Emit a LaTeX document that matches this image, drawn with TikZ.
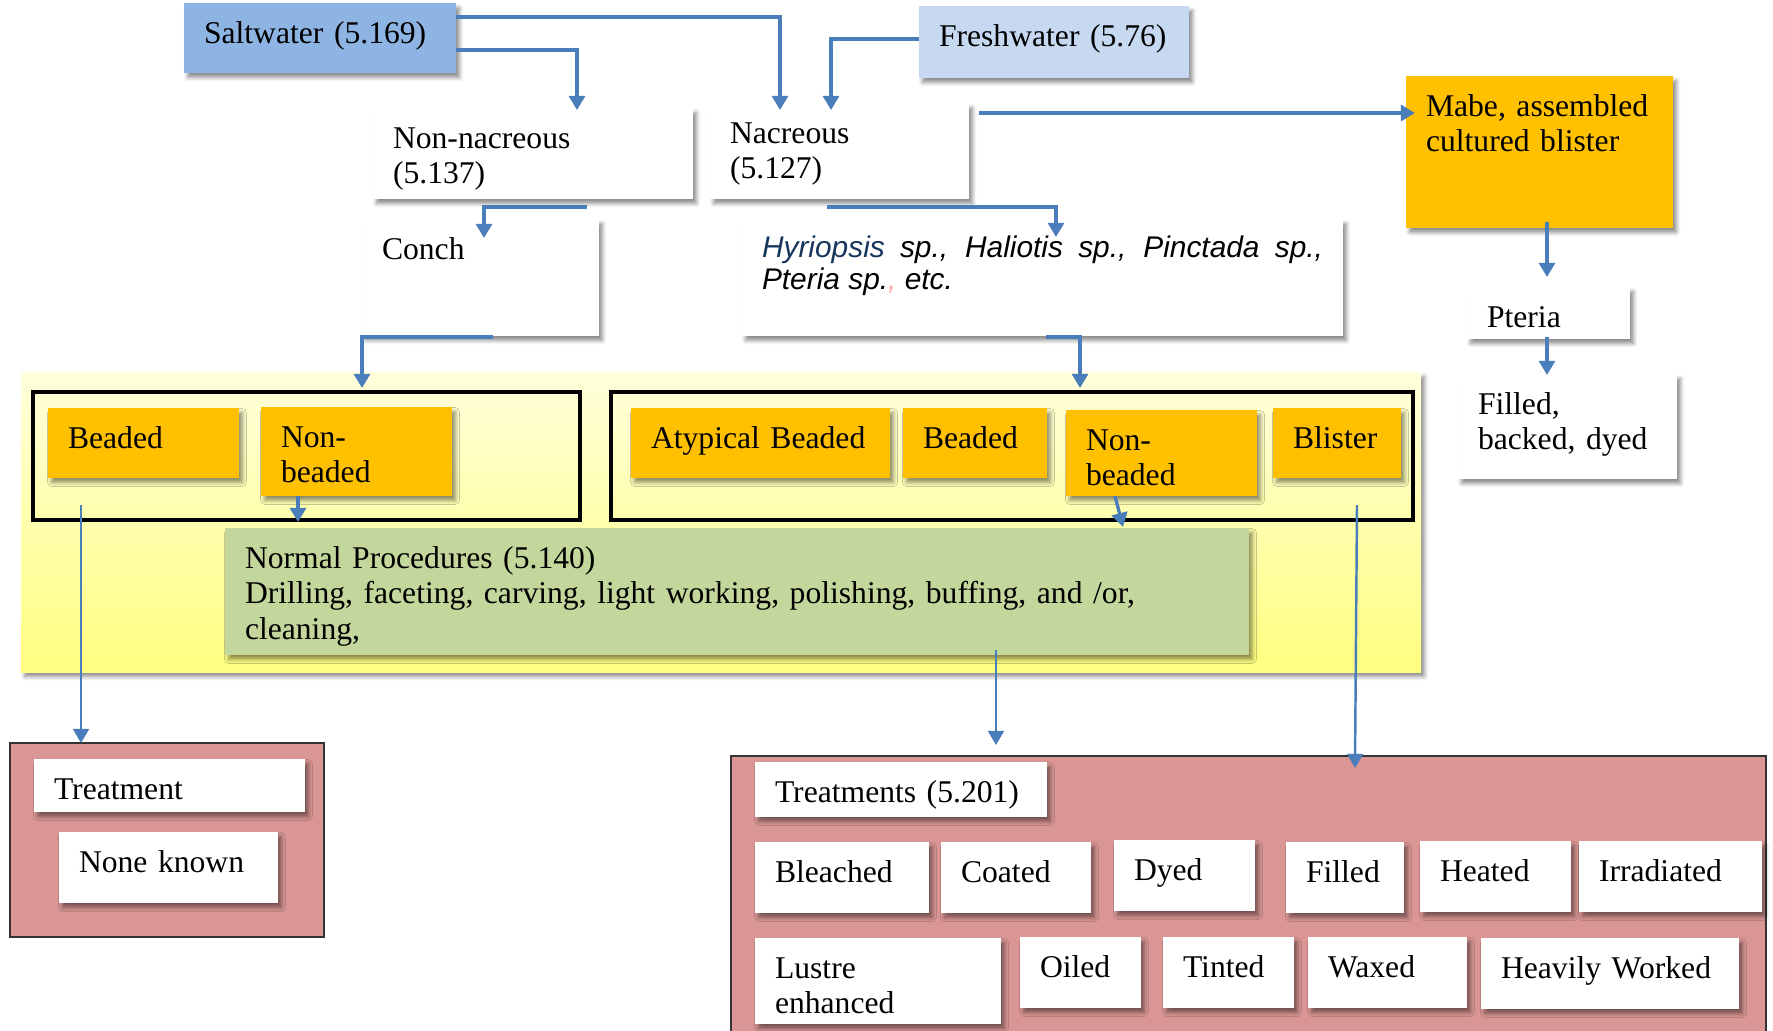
\documentclass[tikz,border=0pt]{standalone}
\usepackage{fontspec}
\setmainfont{Liberation Serif}
\newfontfamily\arialfont{Liberation Sans}
\usetikzlibrary{arrows.meta,shadows.blur,calc}

\definecolor{saltblue}{HTML}{8EB4E3}
\definecolor{freshblue}{HTML}{C6D9F1}
\definecolor{amber}{HTML}{FFC000}
\definecolor{sage}{HTML}{C3D69B}
\definecolor{rose}{HTML}{D99694}
\definecolor{linkblue}{HTML}{4A7EBB}
\definecolor{navy}{HTML}{17365D}

\tikzset{
	soft shadow/.style={blur shadow={shadow xshift=2pt, shadow yshift=-2.6pt, shadow blur radius=2.2pt, shadow blur steps=6, shadow opacity=45}},
	box/.style={anchor=north west, inner xsep=4mm, inner ysep=0pt, outer sep=0pt,
		text height=8mm, align=left, font=\fontsize{18}{20.4}\selectfont, soft shadow},
	wbox/.style={box, fill=white},
	obox/.style={box, fill=amber},
	group/.style={anchor=north west, draw=black, line width=2pt, inner sep=0pt, outer sep=0pt},
	panel/.style={anchor=north west, draw=black!80, line width=.8pt, fill=rose, inner sep=0pt, outer sep=0pt},
	link/.style={draw=linkblue, line width=1.9pt, -{Triangle[width=9pt,length=8pt]}},
	thin link/.style={link, line width=1.4pt},
}

\begin{document}
\begin{tikzpicture}[x=0.2mm,y=-0.2mm]
	\useasboundingbox (0,0) rectangle (1773,1030);
	% top row
	\node[box, fill=saltblue, text width=46.4mm, text depth=6mm] (salt) at (184,3) {Saltwater (5.169)};
	\node[box, fill=freshblue, text width=46mm, text depth=6.4mm] (fresh) at (919,6) {Freshwater (5.76)};
	\node[wbox, text width=56mm, text depth=10.2mm] (nonnac) at (373,108) {Non-nacreous\\(5.137)};
	\node[wbox, text width=43.8mm, text depth=11.2mm] (nac) at (710,103) {Nacreous\\(5.127)};
	\node[obox, text width=45.4mm, text depth=22.4mm] (mabe) at (1406,76) {Mabe, assembled\\cultured blister};
	\node[wbox, text width=39.4mm, text depth=15.4mm] (conch) at (362,219) {Conch};
	\node[wbox, text width=112.2mm, text height=7.6mm, text depth=15.8mm, align=justify,
		font=\arialfont\itshape\fontsize{17}{18.7}\selectfont] (species) at (742,219)
		{\textcolor{navy}{Hyriopsis} sp., Haliotis sp., Pinctada sp.,\linebreak Pteria sp.\textcolor{red!35}{,} etc.};
	\node[wbox, text width=24.6mm, text depth=2.4mm] (pteria) at (1467,287) {Pteria};
	\node[wbox, text width=35.8mm, text depth=13mm] (filled) at (1458,374) {Filled,\\backed, dyed};

	% yellow band with the two groups
	\shade[top color=yellow!14, bottom color=yellow!50, soft shadow] (21,372) rectangle (1421,672);
	\node[group, minimum width=109.4mm, minimum height=25.6mm] (lgrp) at (33,392) {};
	\node[group, minimum width=160.4mm, minimum height=25.6mm] (rgrp) at (611,392) {};
	\node[obox, text width=30.2mm, text depth=6mm] (lbead) at (48,408) {Beaded};
	\node[obox, text width=30.2mm, text depth=9.8mm] (lnonb) at (261,407) {Non-\\beaded};
	\node[obox, text width=43.8mm, text depth=6mm] (atyp) at (631,408) {Atypical Beaded};
	\node[obox, text width=20.8mm, text depth=6mm] (rbead) at (903,408) {Beaded};
	\node[obox, text width=30.2mm, text depth=9.2mm] (rnonb) at (1066,410) {Non-\\beaded};
	\node[obox, text width=17.6mm, text depth=6mm] (blister) at (1273,408) {Blister};
	\node[box, fill=sage, text width=196.8mm, text depth=17.4mm] (normal) at (225,528)
		{Normal Procedures (5.140)\\Drilling, faceting, carving, light working, polishing, buffing, and /or,\\cleaning,};

	% treatments
	\node[panel, minimum width=62.8mm, minimum height=38.8mm] (lred) at (10,743) {};
	\node[wbox, text width=46.2mm, text depth=2.6mm] (ltreat) at (34,759) {Treatment};
	\node[wbox, text width=35.8mm, text depth=6.2mm] (lnone) at (59,832) {None known};
	\node[panel, minimum width=207mm, minimum height=60mm] (rred) at (731,756) {};
	\node[wbox, text width=50.4mm, text depth=3mm] (rtreat) at (755,762) {Treatments (5.201)};
	\node[wbox, text width=26.8mm, text depth=6.2mm] (bleach) at (755,842) {Bleached};
	\node[wbox, text width=22mm, text depth=6.2mm] (coat) at (941,842) {Coated};
	\node[wbox, text width=20.2mm, text depth=6.2mm] (dyed) at (1114,840) {Dyed};
	\node[wbox, text width=15.6mm, text depth=6.2mm] (filld) at (1286,842) {Filled};
	\node[wbox, text width=22.2mm, text depth=6.2mm] (heat) at (1420,841) {Heated};
	\node[wbox, text width=28.6mm, text depth=6.2mm] (irrad) at (1579,841) {Irradiated};
	\node[wbox, text width=41.2mm, text depth=9.2mm] (lustre) at (755,938) {Lustre\\enhanced};
	\node[wbox, text width=16.2mm, text depth=6.2mm] (oiled) at (1020,937) {Oiled};
	\node[wbox, text width=18.2mm, text depth=6.2mm] (tinted) at (1163,937) {Tinted};
	\node[wbox, text width=23.8mm, text depth=6.2mm] (waxed) at (1308,937) {Waxed};
	\node[wbox, text width=43.6mm, text depth=6.2mm] (heavy) at (1481,938) {Heavily Worked};

	% connectors
	\draw[link] ($(salt.north east)+(0,47)$) -| ($(nonnac.north west)+(204,2)$);
	\draw[link] ($(salt.north east)+(0,14)$) -| ($(nac.north west)+(70,7)$);
	\draw[link] ($(fresh.north west)+(0,33)$) -| ($(nac.north west)+(121,7)$);
	\draw[link] ($(nac.north east)+(10,10)$) -- ($(mabe.north west)+(9,37)$);
	\draw[link] ($(nac.south west)+(117,8)$) -| ($(species.north west)+(314,18)$);
	\draw[link] ($(nonnac.south west)+(214,8)$) -| ($(conch.north west)+(122,19)$);
	\draw[link] ($(conch.south west)+(131,1)$) -| ($(lgrp.north west)+(329,-4)$);
	\draw[link] ($(species.south west)+(304,1)$) -| ($(rgrp.north west)+(469,-4)$);
	\draw[link] ($(mabe.south west)+(141,-6)$) -- ($(pteria.north west)+(80,-10)$);
	\draw[link] ($(pteria.south west)+(80,-2)$) -- ($(filled.north west)+(89,1)$);
	\draw[link] ($(lnonb.south west)+(37,0)$) -- ($(normal.north west)+(73,-6)$);
	\draw[link] ($(rnonb.south west)+(49,0)$) -- ($(normal.north west)+(898,-1)$);
	\draw[thin link] ($(lbead.south west)+(33,27)$) -- ($(lred.north west)+(71,0)$);
	\draw[thin link] ($(normal.south west)+(771,-5)$) -- ($(rred.north west)+(265,-11)$);
	\draw[thin link] ($(blister.south west)+(84,27)$) -- ($(rred.north west)+(624,12)$);
\end{tikzpicture}
\end{document}
